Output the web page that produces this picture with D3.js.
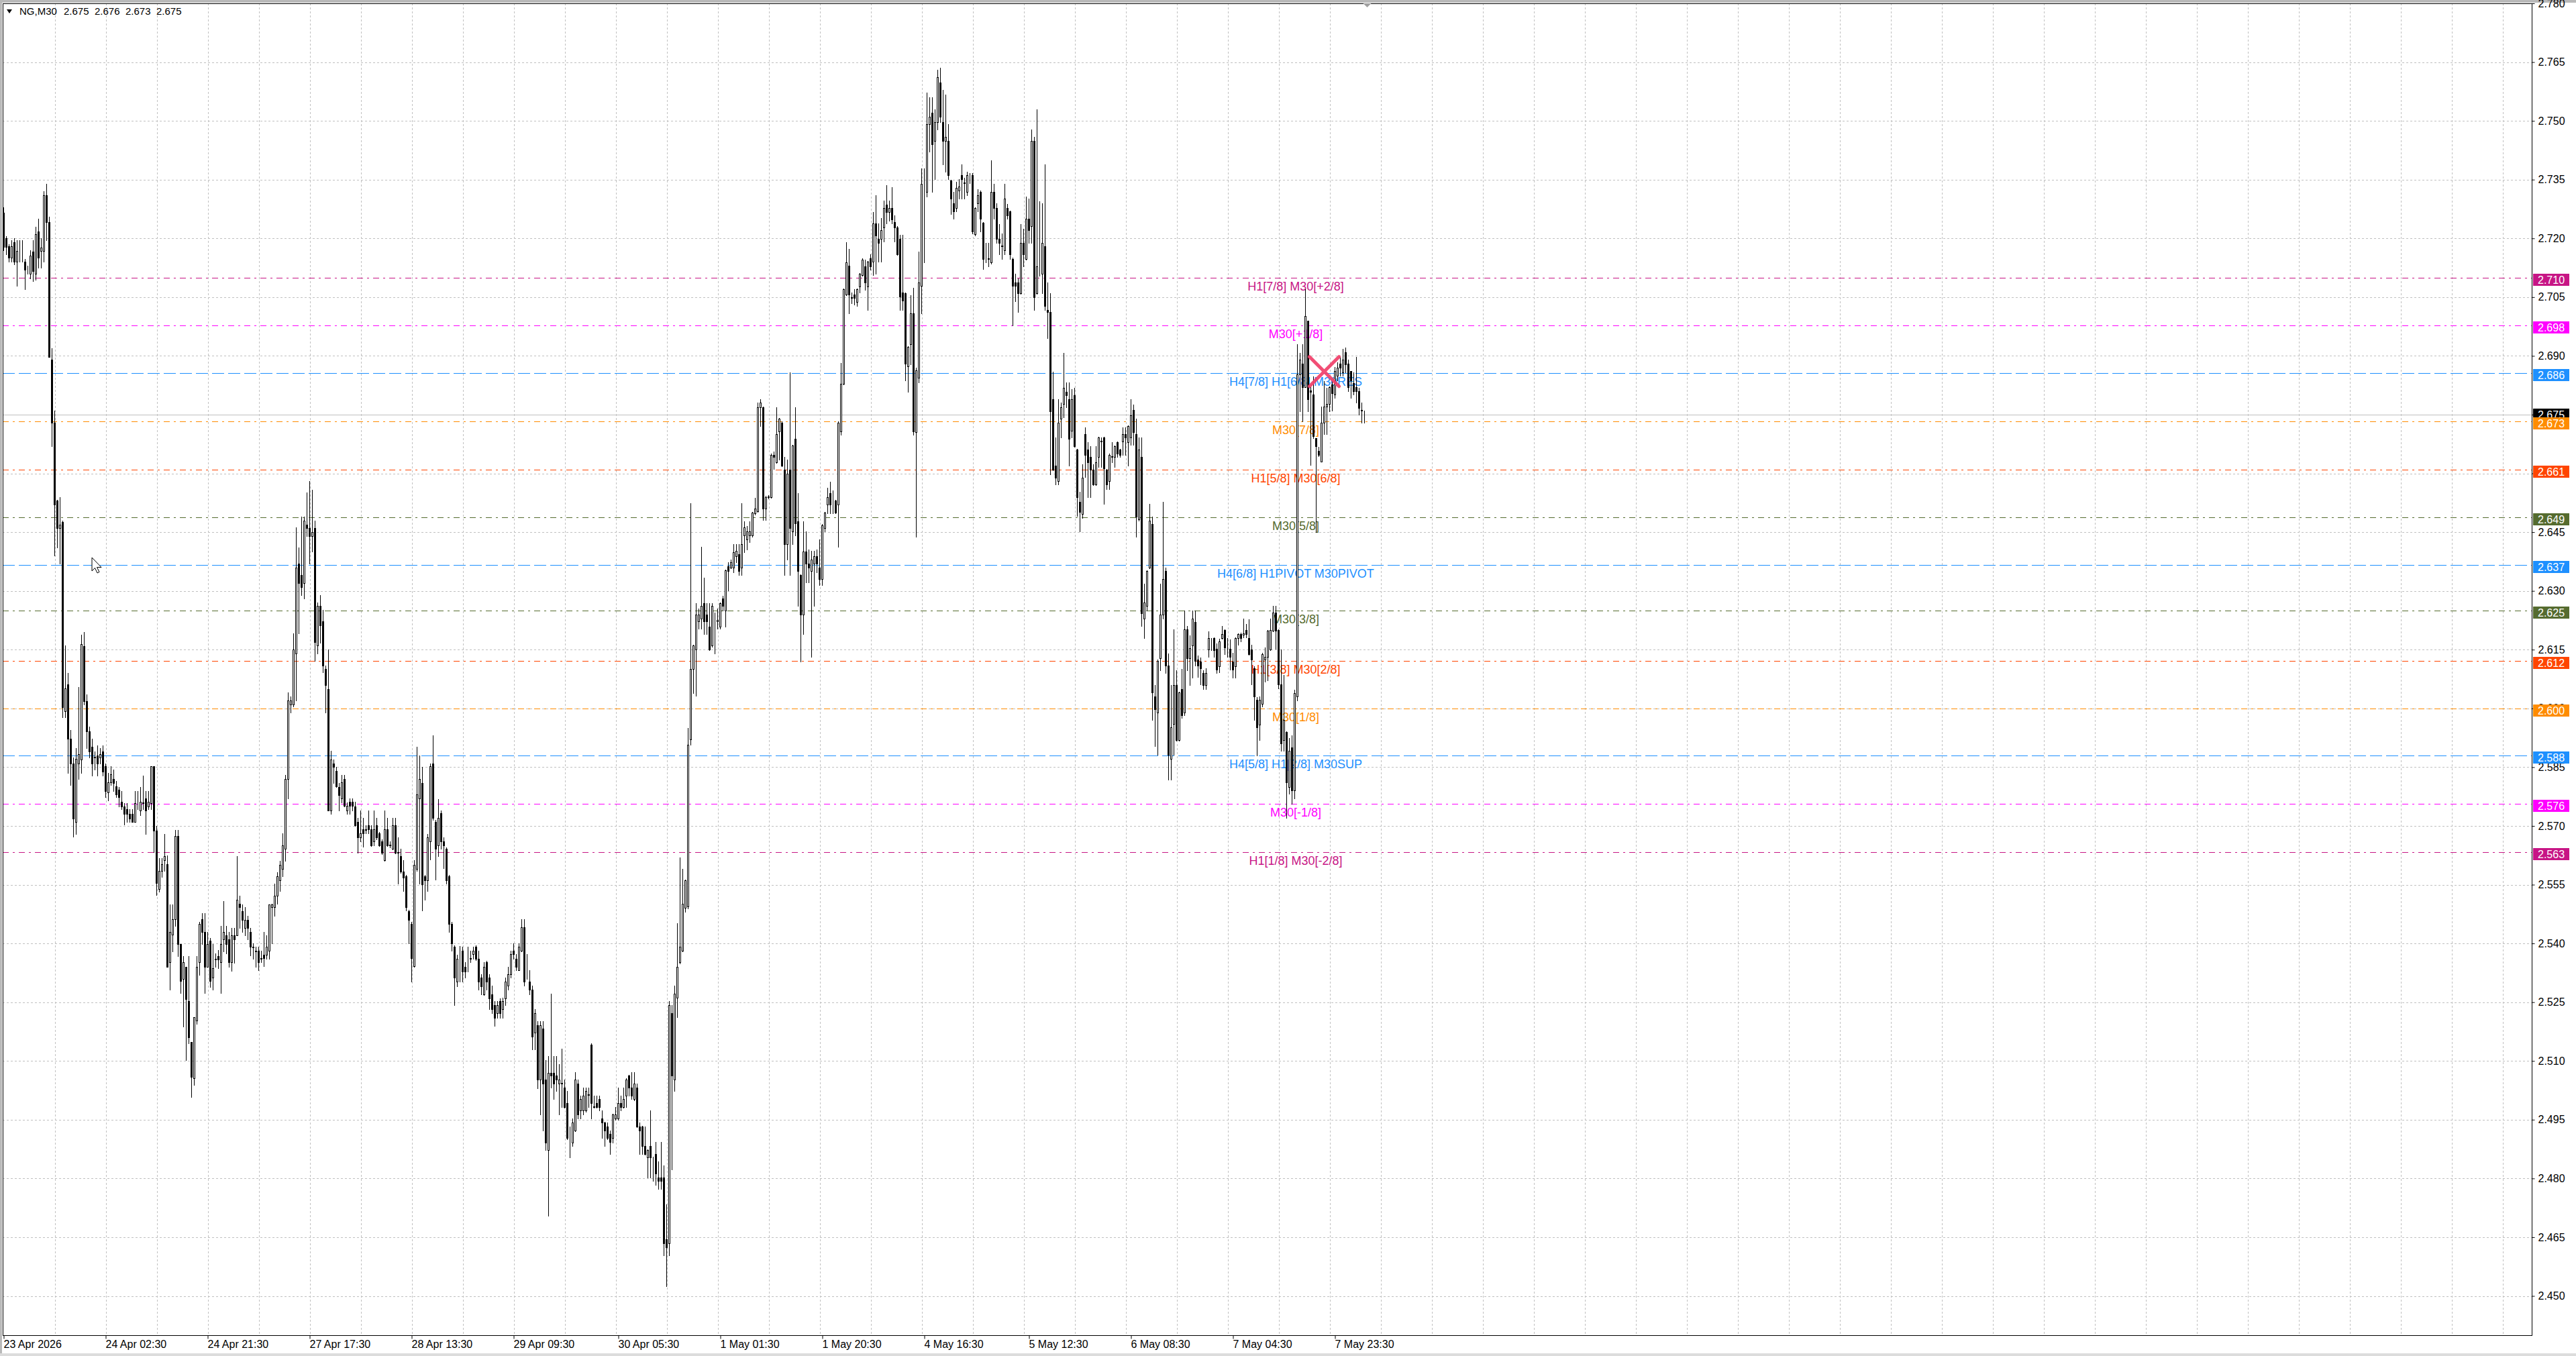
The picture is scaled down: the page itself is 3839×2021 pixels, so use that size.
<!DOCTYPE html>
<html>
<head>
<meta charset="utf-8">
<script src="https://cdn.jsdelivr.net/npm/d3@7"></script>
<style>
  body { margin: 0; background: #fff; overflow: hidden; }
  svg text { font-family: "Liberation Sans", Arial, sans-serif; }
</style>
</head>
<body>
<svg id="chart" width="3839" height="2021"></svg>
<script>
// ---- chart data ----
const symbolName = "NG,M30";
const lastQuote = [2.675, 2.676, 2.673, 2.675];   // open high low close of last bar
const bidPrice = 2.675;

// one entry per M30 bar: [open, high, low, close]
const ohlc = [
[2.7200,2.7240,2.7170,2.7210],[2.7265,2.7280,2.7170,2.7179],[2.7200,2.7205,2.7160,2.7179],[2.7180,2.7185,2.7140,2.7150],
[2.7150,2.7195,2.7140,2.7180],[2.7190,2.7200,2.7133,2.7140],[2.7140,2.7195,2.7078,2.7168],[2.7170,2.7195,2.7140,2.7170],
[2.7148,2.7195,2.7140,2.7148],[2.7140,2.7148,2.7070,2.7120],[2.7117,2.7130,2.7110,2.7117],[2.7110,2.7170,2.7097,2.7156],
[2.7167,2.7195,2.7090,2.7117],[2.7110,2.7230,2.7095,2.7210],[2.7218,2.7250,2.7125,2.7151],[2.7168,2.7200,2.7125,2.7176],
[2.7168,2.7320,2.7140,2.7310],[2.7310,2.7340,2.7195,2.7242],[2.7242,2.7256,2.6898,2.6898],[2.6890,2.6920,2.6670,2.6730],
[2.6730,2.6760,2.6390,2.6520],[2.6530,2.6532,2.6410,2.6461],[2.6461,2.6540,2.6370,2.6469],[2.6476,2.6480,2.5977,2.6003],
[2.5992,2.6160,2.5977,2.6051],[2.6062,2.6090,2.5836,2.5922],[2.5922,2.5945,2.5805,2.5859],[2.5859,2.5875,2.5672,2.5719],
[2.5711,2.5898,2.5680,2.5872],[2.5859,2.6055,2.5820,2.5883],[2.5870,2.6188,2.5836,2.6164],[2.6159,2.6195,2.6010,2.6019],
[2.6019,2.6035,2.5898,2.5942],[2.5942,2.5953,2.5875,2.5890],[2.5902,2.5922,2.5828,2.5859],[2.5875,2.5890,2.5844,2.5877],
[2.5880,2.5906,2.5828,2.5859],[2.5875,2.5898,2.5859,2.5883],[2.5890,2.5906,2.5828,2.5839],[2.5852,2.5859,2.5773,2.5789],
[2.5785,2.5836,2.5765,2.5812],[2.5812,2.5852,2.5805,2.5831],[2.5820,2.5844,2.5789,2.5809],[2.5801,2.5815,2.5773,2.5780],
[2.5793,2.5800,2.5750,2.5773],[2.5762,2.5789,2.5742,2.5750],[2.5750,2.5758,2.5703,2.5731],[2.5742,2.5758,2.5711,2.5730],
[2.5731,2.5742,2.5711,2.5719],[2.5731,2.5742,2.5711,2.5711],[2.5711,2.5789,2.5711,2.5758],[2.5758,2.5789,2.5742,2.5758],
[2.5739,2.5800,2.5727,2.5762],[2.5758,2.5828,2.5742,2.5760],[2.5770,2.5789,2.5680,2.5739],[2.5750,2.5789,2.5742,2.5762],
[2.5758,2.5852,2.5742,2.5852],[2.5852,2.5852,2.5633,2.5688],[2.5688,2.5700,2.5524,2.5555],[2.5539,2.5617,2.5532,2.5586],
[2.5586,2.5617,2.5570,2.5602],[2.5613,2.5680,2.5586,2.5622],[2.5602,2.5625,2.5341,2.5341],[2.5352,2.5500,2.5282,2.5430],
[2.5422,2.5500,2.5380,2.5461],[2.5461,2.5690,2.5445,2.5675],[2.5675,2.5690,2.5367,2.5399],[2.5399,2.5399,2.5273,2.5305],
[2.5310,2.5367,2.5188,2.5352],[2.5340,2.5340,2.5102,2.5258],[2.5253,2.5367,2.5145,2.5160],[2.5149,2.5149,2.5008,2.5060],
[2.5055,2.5211,2.5039,2.5211],[2.5203,2.5367,2.5195,2.5340],[2.5352,2.5455,2.5320,2.5450],[2.5461,2.5477,2.5398,2.5430],
[2.5430,2.5477,2.5273,2.5341],[2.5341,2.5430,2.5340,2.5398],[2.5407,2.5414,2.5289,2.5305],[2.5313,2.5398,2.5282,2.5336],
[2.5359,2.5375,2.5340,2.5361],[2.5367,2.5383,2.5336,2.5359],[2.5352,2.5445,2.5273,2.5398],[2.5410,2.5508,2.5380,2.5430],
[2.5420,2.5445,2.5375,2.5398],[2.5410,2.5430,2.5340,2.5352],[2.5352,2.5440,2.5330,2.5420],[2.5420,2.5440,2.5350,2.5411],
[2.5420,2.5622,2.5420,2.5512],[2.5502,2.5522,2.5440,2.5492],[2.5482,2.5500,2.5430,2.5460],[2.5440,2.5492,2.5420,2.5460],
[2.5460,2.5470,2.5410,2.5440],[2.5430,2.5440,2.5370,2.5391],[2.5391,2.5400,2.5360,2.5390],[2.5380,2.5391,2.5340,2.5381],
[2.5381,2.5391,2.5332,2.5352],[2.5362,2.5381,2.5352,2.5361],[2.5371,2.5430,2.5342,2.5362],[2.5371,2.5420,2.5360,2.5391],
[2.5381,2.5499,2.5361,2.5499],[2.5492,2.5502,2.5401,2.5499],[2.5492,2.5553,2.5470,2.5521],[2.5521,2.5581,2.5501,2.5571],
[2.5561,2.5610,2.5533,2.5600],[2.5590,2.5681,2.5571,2.5651],[2.5642,2.5830,2.5610,2.5820],[2.5820,2.6040,2.5770,2.6020],
[2.6010,2.6030,2.5990,2.6020],[2.6010,2.6192,2.6005,2.6151],[2.6141,2.6462,2.6020,2.6359],[2.6369,2.6410,2.6192,2.6320],
[2.6341,2.6489,2.6290,2.6310],[2.6320,2.6489,2.6280,2.6479],[2.6469,2.6551,2.6440,2.6461],[2.6461,2.6580,2.6369,2.6440],
[2.6440,2.6558,2.6400,2.6450],[2.6461,2.6479,2.6121,2.6170],[2.6160,2.6270,2.6140,2.6261],[2.6261,2.6290,2.6167,2.6212],
[2.6222,2.6251,2.6092,2.6110],[2.6100,2.6110,2.5990,2.6059],[2.6049,2.6151,2.5740,2.5740],[2.5740,2.5891,2.5730,2.5870],
[2.5860,2.5870,2.5810,2.5850],[2.5840,2.5850,2.5800,2.5801],[2.5799,2.5810,2.5740,2.5779],[2.5771,2.5830,2.5760,2.5811],
[2.5820,2.5830,2.5750,2.5752],[2.5740,2.5760,2.5730,2.5752],[2.5762,2.5771,2.5730,2.5752],[2.5762,2.5771,2.5740,2.5752],
[2.5750,2.5762,2.5700,2.5701],[2.5710,2.5720,2.5632,2.5671],[2.5671,2.5740,2.5661,2.5681],[2.5691,2.5720,2.5646,2.5681],
[2.5691,2.5701,2.5681,2.5690],[2.5701,2.5740,2.5681,2.5691],[2.5691,2.5701,2.5648,2.5651],[2.5661,2.5740,2.5651,2.5691],
[2.5701,2.5720,2.5665,2.5671],[2.5681,2.5685,2.5648,2.5651],[2.5661,2.5665,2.5628,2.5632],[2.5612,2.5740,2.5610,2.5691],
[2.5691,2.5720,2.5648,2.5651],[2.5651,2.5660,2.5645,2.5652],[2.5642,2.5720,2.5640,2.5701],[2.5701,2.5720,2.5630,2.5632],
[2.5632,2.5671,2.5553,2.5633],[2.5622,2.5642,2.5580,2.5583],[2.5583,2.5612,2.5533,2.5568],[2.5571,2.5575,2.5484,2.5492],
[2.5482,2.5485,2.5401,2.5460],[2.5450,2.5455,2.5302,2.5362],[2.5342,2.5612,2.5340,2.5600],[2.5590,2.5902,2.5585,2.5781],
[2.5771,2.5880,2.5553,2.5820],[2.5810,2.5850,2.5484,2.5551],[2.5571,2.5575,2.5512,2.5561],[2.5561,2.5680,2.5533,2.5671],
[2.5661,2.5860,2.5614,2.5853],[2.5860,2.5932,2.5715,2.5720],[2.5710,2.5715,2.5563,2.5642],[2.5651,2.5769,2.5622,2.5720],
[2.5732,2.5740,2.5642,2.5661],[2.5661,2.5671,2.5592,2.5651],[2.5642,2.5645,2.5553,2.5561],[2.5571,2.5575,2.5430,2.5450],
[2.5450,2.5455,2.5381,2.5401],[2.5391,2.5395,2.5243,2.5312],[2.5302,2.5371,2.5290,2.5361],[2.5372,2.5393,2.5302,2.5373],
[2.5381,2.5392,2.5302,2.5329],[2.5341,2.5353,2.5312,2.5329],[2.5352,2.5392,2.5329,2.5353],[2.5361,2.5381,2.5352,2.5362],
[2.5372,2.5392,2.5361,2.5381],[2.5392,2.5395,2.5358,2.5361],[2.5361,2.5381,2.5282,2.5302],[2.5312,2.5322,2.5270,2.5290],
[2.5270,2.5352,2.5268,2.5341],[2.5352,2.5355,2.5282,2.5302],[2.5312,2.5322,2.5232,2.5260],[2.5270,2.5292,2.5222,2.5232],
[2.5242,2.5252,2.5190,2.5210],[2.5222,2.5252,2.5210,2.5242],[2.5252,2.5260,2.5210,2.5222],[2.5232,2.5262,2.5210,2.5252],
[2.5260,2.5312,2.5242,2.5302],[2.5292,2.5341,2.5282,2.5322],[2.5322,2.5381,2.5312,2.5372],[2.5381,2.5401,2.5361,2.5372],
[2.5361,2.5372,2.5331,2.5341],[2.5331,2.5401,2.5331,2.5392],[2.5381,2.5461,2.5379,2.5441],[2.5441,2.5461,2.5292,2.5302],
[2.5312,2.5372,2.5310,2.5313],[2.5302,2.5331,2.5270,2.5282],[2.5282,2.5292,2.5130,2.5162],[2.5172,2.5232,2.5130,2.5222],
[2.5192,2.5202,2.5031,2.5052],[2.5052,2.5202,2.4963,2.5192],[2.5182,2.5202,2.4923,2.5043],[2.5052,2.5102,2.4873,2.4891],
[2.4873,2.5112,2.4704,2.5070],[2.5070,2.5271,2.5032,2.5062],[2.5070,2.5112,2.5003,2.5043],[2.5062,2.5112,2.5023,2.5052],
[2.5043,2.5092,2.4963,2.5052],[2.5043,2.5132,2.4983,2.5044],[2.5032,2.5052,2.4980,2.4983],[2.4992,2.5023,2.4900,2.4903],
[2.4903,2.4933,2.4853,2.4904],[2.4891,2.4953,2.4883,2.4943],[2.4923,2.5072,2.4920,2.5052],[2.5043,2.5052,2.4953,2.4963],
[2.4973,2.5012,2.4953,2.5003],[2.4973,2.5032,2.4963,2.5012],[2.4973,2.5032,2.4970,2.5023],[2.5013,2.5032,2.4983,2.5014],
[2.5142,2.5145,2.4953,2.4992],[2.4983,2.5012,2.4980,2.4984],[2.4992,2.5012,2.4980,2.4983],[2.5003,2.5012,2.4973,2.4983],
[2.4953,2.4973,2.4903,2.4943],[2.4943,2.4945,2.4883,2.4923],[2.4933,2.4943,2.4900,2.4903],[2.4913,2.4923,2.4863,2.4893],
[2.4903,2.4965,2.4891,2.4963],[2.4953,2.4983,2.4950,2.4963],[2.4953,2.5032,2.4950,2.4992],[2.4992,2.5012,2.4973,2.4983],
[2.4983,2.5032,2.4980,2.5003],[2.5012,2.5055,2.4983,2.5052],[2.5062,2.5065,2.5012,2.5032],[2.5032,2.5072,2.5003,2.5012],
[2.5003,2.5072,2.5000,2.5043],[2.5032,2.5043,2.4930,2.4933],[2.4933,2.4943,2.4863,2.4923],[2.4933,2.4935,2.4863,2.4883],
[2.4883,2.4933,2.4860,2.4863],[2.4853,2.4875,2.4803,2.4873],[2.4883,2.4973,2.4803,2.4853],[2.4853,2.4856,2.4793,2.4854],
[2.4863,2.4893,2.4783,2.4813],[2.4803,2.4843,2.4773,2.4793],[2.4803,2.4893,2.4773,2.4793],[2.4803,2.4833,2.4604,2.4634],
[2.4644,2.4733,2.4525,2.4624],[2.4634,2.5252,2.4604,2.5242],[2.5222,2.5242,2.4823,2.5062],[2.5052,2.5292,2.5023,2.5271],
[2.5262,2.5451,2.5212,2.5341],[2.5352,2.5620,2.5349,2.5391],[2.5381,2.5591,2.5379,2.5501],[2.5491,2.5563,2.5480,2.5561],
[2.5495,2.5950,2.5490,2.5908],[2.5921,2.6524,2.5908,2.6101],[2.6101,2.6162,2.6039,2.6160],[2.6151,2.6269,2.6032,2.6239],
[2.6222,2.6255,2.6203,2.6239],[2.6229,2.6412,2.6203,2.6262],[2.6269,2.6334,2.6190,2.6222],[2.6239,2.6269,2.6190,2.6222],
[2.6209,2.6269,2.6148,2.6150],[2.6160,2.6269,2.6158,2.6262],[2.6222,2.6245,2.6140,2.6223],[2.6222,2.6255,2.6203,2.6225],
[2.6209,2.6270,2.6203,2.6268],[2.6281,2.6288,2.6249,2.6262],[2.6249,2.6355,2.6209,2.6353],[2.6363,2.6373,2.6301,2.6350],
[2.6360,2.6380,2.6358,2.6373],[2.6360,2.6419,2.6347,2.6399],[2.6389,2.6419,2.6373,2.6402],[2.6393,2.6419,2.6341,2.6350],
[2.6360,2.6524,2.6341,2.6419],[2.6441,2.6478,2.6399,2.6463],[2.6432,2.6465,2.6406,2.6452],[2.6441,2.6478,2.6425,2.6452],
[2.6441,2.6502,2.6438,2.6500],[2.6498,2.6537,2.6495,2.6511],[2.6504,2.6780,2.6502,2.6769],[2.6769,2.6789,2.6720,2.6780],
[2.6769,2.6771,2.6481,2.6511],[2.6511,2.6542,2.6481,2.6540],[2.6540,2.6545,2.6535,2.6541],[2.6540,2.6650,2.6538,2.6648],
[2.6648,2.6655,2.6612,2.6642],[2.6629,2.6769,2.6627,2.6701],[2.6707,2.6742,2.6635,2.6740],[2.6730,2.6732,2.6618,2.6620],
[2.6609,2.6642,2.6341,2.6419],[2.6419,2.6635,2.6380,2.6600],[2.6609,2.6858,2.6341,2.6461],[2.6452,2.6673,2.6419,2.6671],
[2.6688,2.6769,2.6441,2.6472],[2.6478,2.6550,2.6262,2.6350],[2.6340,2.6342,2.6120,2.6240],[2.6240,2.6478,2.6190,2.6400],
[2.6400,2.6452,2.6321,2.6370],[2.6370,2.6406,2.6321,2.6360],[2.6350,2.6402,2.6131,2.6380],[2.6370,2.6402,2.6262,2.6389],
[2.6389,2.6406,2.6347,2.6370],[2.6360,2.6432,2.6315,2.6330],[2.6330,2.6470,2.6315,2.6468],[2.6461,2.6502,2.6452,2.6500],
[2.6520,2.6563,2.6498,2.6540],[2.6550,2.6579,2.6498,2.6520],[2.6530,2.6557,2.6498,2.6531],[2.6530,2.6532,2.6498,2.6500],
[2.6520,2.6732,2.6413,2.6730],[2.6707,2.6882,2.6698,2.6829],[2.6829,2.7072,2.6827,2.7070],[2.7057,2.7190,2.7055,2.7139],
[2.7131,2.7173,2.7009,2.7057],[2.7048,2.7061,2.7035,2.7049],[2.7057,2.7070,2.7031,2.7048],[2.7038,2.7072,2.7028,2.7070],
[2.7077,2.7111,2.7061,2.7109],[2.7107,2.7149,2.7105,2.7146],[2.7129,2.7146,2.7068,2.7088],[2.7077,2.7142,2.7018,2.7140],
[2.7149,2.7160,2.7120,2.7129],[2.7140,2.7267,2.7107,2.7238],[2.7238,2.7310,2.7110,2.7208],[2.7199,2.7238,2.7140,2.7188],
[2.7199,2.7251,2.7140,2.7221],[2.7228,2.7297,2.7192,2.7278],[2.7286,2.7336,2.7238,2.7267],[2.7267,2.7297,2.7245,2.7278],
[2.7278,2.7330,2.7238,2.7249],[2.7241,2.7258,2.7192,2.7228],[2.7228,2.7232,2.7158,2.7160],[2.7198,2.7209,2.7018,2.7051],
[2.7061,2.7209,2.7018,2.7041],[2.7060,2.7062,2.6838,2.6880],[2.6874,2.6925,2.6808,2.6923],[2.6930,2.7055,2.6878,2.7009],
[2.7009,2.7074,2.6698,2.6707],[2.6706,2.6870,2.6439,2.6863],[2.6844,2.7167,2.6832,2.7088],[2.7079,2.7379,2.7009,2.7339],
[2.7339,2.7379,2.7138,2.7340],[2.7319,2.7573,2.7307,2.7491],[2.7491,2.7560,2.7421,2.7510],[2.7520,2.7560,2.7319,2.7440],
[2.7449,2.7529,2.7351,2.7497],[2.7497,2.7630,2.7478,2.7611],[2.7598,2.7636,2.7497,2.7510],[2.7497,2.7579,2.7389,2.7449],
[2.7449,2.7567,2.7370,2.7459],[2.7449,2.7491,2.7351,2.7361],[2.7348,2.7350,2.7262,2.7301],[2.7290,2.7319,2.7250,2.7269],
[2.7278,2.7345,2.7269,2.7329],[2.7322,2.7351,2.7301,2.7332],[2.7361,2.7389,2.7301,2.7351],[2.7341,2.7354,2.7301,2.7342],
[2.7319,2.7370,2.7310,2.7361],[2.7351,2.7366,2.7341,2.7352],[2.7361,2.7366,2.7212,2.7218],[2.7210,2.7280,2.7208,2.7278],
[2.7290,2.7326,2.7269,2.7310],[2.7319,2.7322,2.7218,2.7250],[2.7240,2.7242,2.7121,2.7148],[2.7159,2.7189,2.7138,2.7160],
[2.7148,2.7189,2.7129,2.7149],[2.7138,2.7400,2.7136,2.7319],[2.7319,2.7339,2.7250,2.7278],[2.7278,2.7290,2.7189,2.7199],
[2.7199,2.7237,2.7159,2.7189],[2.7180,2.7212,2.7148,2.7181],[2.7170,2.7339,2.7159,2.7301],[2.7278,2.7288,2.7250,2.7259],
[2.7269,2.7271,2.7148,2.7159],[2.7148,2.7150,2.6977,2.7079],[2.7088,2.7110,2.7040,2.7079],[2.7088,2.7098,2.7012,2.7060],
[2.7060,2.7237,2.7058,2.7189],[2.7189,2.7225,2.7129,2.7159],[2.7148,2.7307,2.7146,2.7250],[2.7250,2.7301,2.7189,2.7221],
[2.7231,2.7478,2.7189,2.7449],[2.7449,2.7459,2.7018,2.7050],[2.7060,2.7529,2.7058,2.7129],[2.7121,2.7294,2.7104,2.7122],
[2.7110,2.7290,2.7060,2.7189],[2.7180,2.7389,2.7018,2.7028],[2.7018,2.7088,2.6946,2.7012],[2.7012,2.7060,2.6598,2.6758],
[2.6790,2.6860,2.6608,2.6610],[2.6619,2.6692,2.6572,2.6589],[2.6581,2.6790,2.6572,2.6730],[2.6739,2.6781,2.6692,2.6768],
[2.6777,2.6908,2.6743,2.6819],[2.6809,2.6832,2.6768,2.6800],[2.6790,2.6832,2.6619,2.6689],[2.6708,2.6815,2.6692,2.6790],
[2.6800,2.6819,2.6668,2.6670],[2.6661,2.6663,2.6492,2.6540],[2.6528,2.6553,2.6452,2.6502],[2.6496,2.6623,2.6487,2.6589],
[2.6701,2.6718,2.6591,2.6648],[2.6661,2.6680,2.6540,2.6629],[2.6642,2.6670,2.6540,2.6610],[2.6610,2.6623,2.6570,2.6572],
[2.6572,2.6670,2.6570,2.6629],[2.6642,2.6694,2.6617,2.6692],[2.6682,2.6692,2.6617,2.6683],[2.6692,2.6694,2.6522,2.6613],
[2.6610,2.6612,2.6560,2.6572],[2.6581,2.6650,2.6560,2.6648],[2.6642,2.6680,2.6629,2.6643],[2.6642,2.6672,2.6617,2.6670],
[2.6680,2.6682,2.6642,2.6651],[2.6661,2.6663,2.6642,2.6648],[2.6682,2.6718,2.6648,2.6701],[2.6701,2.6718,2.6648,2.6692],
[2.6680,2.6722,2.6619,2.6720],[2.6692,2.6790,2.6673,2.6749],[2.6762,2.6775,2.6673,2.6705],[2.6701,2.6739,2.6439,2.6490],
[2.6483,2.6692,2.6480,2.6661],[2.6642,2.6692,2.6211,2.6243],[2.6230,2.6319,2.6180,2.6271],[2.6262,2.6352,2.6250,2.6350],
[2.6359,2.6522,2.6357,2.6480],[2.6471,2.6490,2.5970,2.6040],[2.6031,2.6059,2.5903,2.5998],[2.5989,2.6124,2.5882,2.6122],
[2.6129,2.6319,2.6097,2.6240],[2.6240,2.6528,2.6230,2.6331],[2.6350,2.6359,2.6091,2.6110],[2.6110,2.6141,2.5818,2.5882],
[2.5872,2.6059,2.5818,2.5951],[2.5960,2.6201,2.5882,2.6059],[2.6059,2.6097,2.5918,2.5920],[2.5920,2.6042,2.5918,2.6040],
[2.6049,2.6100,2.5976,2.5983],[2.5989,2.6249,2.5983,2.6201],[2.6201,2.6211,2.6097,2.6129],[2.6129,2.6186,2.6059,2.6154],
[2.6160,2.6249,2.6078,2.6230],[2.6221,2.6249,2.6110,2.6122],[2.6125,2.6135,2.6080,2.6110],[2.6120,2.6130,2.6062,2.6102],
[2.6091,2.6097,2.6050,2.6059],[2.6059,2.6102,2.6050,2.6091],[2.6151,2.6196,2.6131,2.6179],[2.6162,2.6179,2.6148,2.6163],
[2.6179,2.6182,2.6131,2.6148],[2.6152,2.6165,2.6091,2.6099],[2.6108,2.6177,2.6092,2.6171],[2.6179,2.6211,2.6177,2.6190],
[2.6200,2.6202,2.6139,2.6156],[2.6150,2.6179,2.6131,2.6151],[2.6152,2.6176,2.6099,2.6131],[2.6120,2.6142,2.6079,2.6099],
[2.6108,2.6182,2.6079,2.6179],[2.6179,2.6192,2.6162,2.6190],[2.6190,2.6193,2.6171,2.6179],[2.6188,2.6230,2.6182,2.6191],
[2.6200,2.6216,2.6182,2.6190],[2.6179,2.6228,2.6137,2.6139],[2.6150,2.6162,2.6062,2.6125],[2.6102,2.6108,2.5971,2.6031],
[2.6022,2.6028,2.5880,2.5951],[2.5959,2.6031,2.5919,2.6022],[2.6011,2.6142,2.6005,2.6139],[2.6125,2.6156,2.6068,2.6131],
[2.6131,2.6200,2.6071,2.6199],[2.6150,2.6230,2.6148,2.6200],[2.6199,2.6261,2.6197,2.6245],[2.6245,2.6261,2.6152,2.6199],
[2.6200,2.6202,2.6051,2.6062],[2.6062,2.6151,2.5891,2.5911],[2.5920,2.6085,2.5891,2.5971],[2.5940,2.5942,2.5720,2.5811],
[2.5800,2.5925,2.5782,2.5891],[2.5900,2.5931,2.5757,2.5791],[2.5791,2.6048,2.5771,2.6039],[2.6030,2.6930,2.6020,2.6853],
[2.6853,2.6907,2.6758,2.6890],[2.6881,2.6930,2.6733,2.6821],[2.6821,2.7070,2.6821,2.7001],[2.6990,2.6990,2.6758,2.6790],
[2.6812,2.6821,2.6621,2.6809],[2.6801,2.6847,2.6690,2.6696],[2.6690,2.6690,2.6450,2.6670],[2.6658,2.6667,2.6644,2.6647],
[2.6630,2.6770,2.6630,2.6730],[2.6730,2.6835,2.6701,2.6770],[2.6770,2.6818,2.6701,2.6778],[2.6778,2.6822,2.6758,2.6821],
[2.6827,2.6838,2.6761,2.6804],[2.6801,2.6872,2.6793,2.6861],[2.6850,2.6884,2.6838,2.6870],[2.6881,2.6898,2.6850,2.6870],
[2.6858,2.6918,2.6850,2.6890],[2.6910,2.6921,2.6858,2.6878],[2.6881,2.6890,2.6810,2.6821],[2.6861,2.6862,2.6793,2.6838],
[2.6830,2.6858,2.6801,2.6810],[2.6821,2.6898,2.6781,2.6810],[2.6810,2.6818,2.6750,2.6767],[2.6761,2.6781,2.6730,2.6762],
[2.6750,2.6760,2.6730,2.6750]
];

// time axis labels and the bar each one sits on
const timeLabels = ["23 Apr 2026","24 Apr 02:30","24 Apr 21:30","27 Apr 17:30","28 Apr 13:30","29 Apr 09:30",
  "30 Apr 05:30","1 May 01:30","1 May 20:30","4 May 16:30","5 May 12:30","6 May 08:30","7 May 04:30","7 May 23:30"];
const timeLabelBars = [1, 39, 77, 115, 153, 191, 230, 268, 306, 344, 383, 421, 459, 497];

// price scale ticks
const priceTicks = [2.780, 2.765, 2.750, 2.735, 2.720, 2.705, 2.690, 2.675, 2.660, 2.645, 2.630, 2.615,
  2.600, 2.585, 2.570, 2.555, 2.540, 2.525, 2.510, 2.495, 2.480, 2.465, 2.450];

// murrey-math style levels
const levelValues = [2.7099, 2.6977, 2.6856, 2.6732, 2.6610, 2.6488, 2.6366, 2.6250, 2.6122, 2.6000, 2.5879, 2.5757, 2.5633];
const levelNames = ["H1[7/8] M30[+2/8]", "M30[+1/8]", "H4[7/8] H1[6/8] M30RES", "M30[7/8]", "H1[5/8] M30[6/8]",
  "M30[5/8]", "H4[6/8] H1PIVOT M30PIVOT", "M30[3/8]", "H1[3/8] M30[2/8]", "M30[1/8]",
  "H4[5/8] H1[2/8] M30SUP", "M30[-1/8]", "H1[1/8] M30[-2/8]"];
const levelColors = ["#C71585", "#FF00FF", "#1E90FF", "#FF8C00", "#FF4500", "#556B2F", "#1E90FF",
  "#556B2F", "#FF4500", "#FF8C00", "#1E90FF", "#FF00FF", "#C71585"];
const levelStyles = ["dashdot", "dashdot", "dash", "dashdot", "dashdot", "dashdot", "dash",
  "dashdot", "dashdot", "dashdot", "dash", "dashdot", "dashdot"];

// the cross signal drawn on the chart
const signalBar = 493;
const signalPrice = 2.686;

// ---- layout ----
const W = 3839, H = 2021;
const plot = {left: 4, top: 5, right: 3773, bottom: 1990};
const barStep = 4;
const labelX = 1931;   // where the level names sit

const svg = d3.select("#chart");

// bar index -> pixel, price -> pixel
const x = d3.scaleLinear().domain([0, 1]).range([1.5, 1.5 + barStep]);
const y = d3.scaleLinear().domain([2.450, 2.780]).range([1931.5, 5]);
const yr = v => Math.round(y(v));

const dashes = {dashdot: "9,6,3,6", dash: "18,6"};

// window frame bits
svg.append("rect").attr("x", 0).attr("y", 0).attr("width", W).attr("height", 4).attr("fill", "#b9b9b9");
svg.append("rect").attr("x", 0).attr("y", 0).attr("width", 3).attr("height", H).attr("fill", "#b9b9b9");
svg.append("rect").attr("x", 0).attr("y", 2017).attr("width", W).attr("height", 4).attr("fill", "#dcdcdc");

svg.append("defs").append("clipPath").attr("id", "plotClip")
  .append("rect")
  .attr("x", plot.left + 1).attr("y", plot.top + 1)
  .attr("width", plot.right - plot.left - 1).attr("height", plot.bottom - plot.top - 1);

const g = svg.append("g").attr("clip-path", "url(#plotClip)");

// grid: vertical every 19 bars, horizontal on the price ticks
const gridBars = d3.range(20, (plot.right - 1.5) / barStep, 19);
g.append("g").selectAll("line").data(gridBars).enter().append("line")
  .attr("x1", d => Math.round(x(d)) + 0.5).attr("x2", d => Math.round(x(d)) + 0.5)
  .attr("y1", plot.top).attr("y2", plot.bottom)
  .attr("stroke", "#c0c0c0").attr("stroke-dasharray", "3,3");

g.append("g").selectAll("line").data(priceTicks).enter().append("line")
  .attr("x1", plot.left).attr("x2", plot.right)
  .attr("y1", d => yr(d) + 0.5).attr("y2", d => yr(d) + 0.5)
  .attr("stroke", "#c0c0c0").attr("stroke-dasharray", "3,3");

// level lines
const levels = levelValues.map((v, i) => ({v: v, name: levelNames[i], color: levelColors[i], style: levelStyles[i]}));

g.append("g").selectAll("line").data(levels).enter().append("line")
  .attr("x1", plot.left).attr("x2", plot.right)
  .attr("y1", d => yr(d.v) + 0.5).attr("y2", d => yr(d.v) + 0.5)
  .attr("stroke", d => d.color)
  .attr("stroke-dasharray", d => dashes[d.style]);

// level names, just under each line
g.append("g").selectAll("text").data(levels).enter().append("text")
  .attr("x", labelX).attr("y", d => yr(d.v) + 19)
  .attr("text-anchor", "middle")
  .style("font-size", "18px")
  .attr("fill", d => d.color)
  .text(d => d.name);

// bid line
g.append("line")
  .attr("x1", plot.left).attr("x2", plot.right)
  .attr("y1", yr(bidPrice) + 0.5).attr("y2", yr(bidPrice) + 0.5)
  .attr("stroke", "#c0c0c0");

// candles
const bars = ohlc.map((d, i) => ({i: i, o: d[0], h: d[1], l: d[2], c: d[3]}));
const cg = g.append("g").attr("shape-rendering", "crispEdges");

cg.selectAll("line.wick").data(bars).enter().append("line")
  .attr("class", "wick")
  .attr("x1", d => x(d.i)).attr("x2", d => x(d.i))
  .attr("y1", d => yr(d.h)).attr("y2", d => yr(d.l) + 1)
  .attr("stroke", "#000");

// bear bodies: solid black
cg.selectAll("rect.bear").data(bars.filter(d => d.c < d.o)).enter().append("rect")
  .attr("class", "bear")
  .attr("x", d => x(d.i) - 1.5).attr("width", 3)
  .attr("y", d => yr(d.o))
  .attr("height", d => Math.max(1, yr(d.c) - yr(d.o) + 1))
  .attr("fill", "#000");

// bull bodies (and dojis): white with black outline
cg.selectAll("rect.bull").data(bars.filter(d => d.c >= d.o)).enter().append("rect")
  .attr("class", "bull")
  .attr("x", d => x(d.i) - 1).attr("width", 2)
  .attr("y", d => yr(d.c) + 0.5)
  .attr("height", d => Math.max(0, yr(d.o) - yr(d.c)))
  .attr("fill", "#fff").attr("stroke", "#000");

// the cross signal
const sx = x(signalBar), sy = y(signalPrice), s = 22;
const xg = g.append("g").attr("stroke", "#f0406a").attr("stroke-width", 5)
  .attr("stroke-linecap", "round").attr("opacity", 0.92);
xg.append("line").attr("x1", sx - s).attr("y1", sy - s).attr("x2", sx + s).attr("y2", sy + s);
xg.append("line").attr("x1", sx - s).attr("y1", sy + s).attr("x2", sx + s).attr("y2", sy - s);

// mouse pointer left on the chart
svg.append("path")
  .attr("d", "M137,831 L137,851 L141.5,846.5 L145,854 L148,852.5 L144.5,845.5 L151,845.5 Z")
  .attr("fill", "#fff").attr("stroke", "#000").attr("stroke-width", 1);

// frame of the plot
svg.append("rect")
  .attr("x", plot.left + 0.5).attr("y", plot.top + 0.5)
  .attr("width", plot.right - plot.left).attr("height", plot.bottom - plot.top)
  .attr("fill", "none").attr("stroke", "#000");

// chart shift marker at the top
const shiftX = x(ohlc.length);
svg.append("path")
  .attr("d", `M${shiftX - 6},5 L${shiftX + 6},5 L${shiftX},11 Z`)
  .attr("fill", "#a0a0a0");

// right price axis
const yAxis = svg.append("g")
  .attr("transform", `translate(${plot.right + 0.5},0)`)
  .call(d3.axisRight(y).tickValues(priceTicks).tickSize(4).tickFormat(d3.format(".3f")));
yAxis.select(".domain").remove();
yAxis.selectAll(".tick line").attr("stroke", "#000");
yAxis.selectAll(".tick text")
  .attr("x", 9)
  .style("font-size", "16px")
  .style("font-family", "\"Liberation Sans\", Arial, sans-serif")
  .attr("fill", "#000");

// bottom time axis
const xAxis = svg.append("g")
  .attr("transform", `translate(0,${plot.bottom + 0.5})`)
  .call(d3.axisBottom(x).tickValues(timeLabelBars).tickSize(5).tickFormat((d, i) => timeLabels[i]));
xAxis.select(".domain").remove();
xAxis.selectAll(".tick line").attr("stroke", "#000");
xAxis.selectAll(".tick text")
  .attr("text-anchor", "start")
  .attr("x", -0.5)
  .attr("y", 7)
  .style("font-size", "16px")
  .style("font-family", "\"Liberation Sans\", Arial, sans-serif")
  .attr("fill", "#000");

// price boxes on the axis: bid first, then the levels on top
const boxes = svg.append("g");
const bidY = yr(bidPrice);
boxes.append("rect").attr("x", plot.right + 2).attr("y", bidY - 9).attr("width", 54).attr("height", 18).attr("fill", "#000");
boxes.append("text").attr("x", plot.right + 9).attr("y", bidY + 6)
  .style("font-size", "16px").attr("fill", "#fff").text(d3.format(".3f")(bidPrice));

const lb = boxes.selectAll("g.lvl").data(levels).enter().append("g").attr("class", "lvl");
lb.append("rect")
  .attr("x", plot.right + 2).attr("y", d => yr(d.v) - 6)
  .attr("width", 54).attr("height", 18)
  .attr("fill", d => d.color);
lb.append("text")
  .attr("x", plot.right + 9).attr("y", d => yr(d.v) + 9)
  .style("font-size", "16px").attr("fill", "#fff")
  .text(d => d3.format(".3f")(d.v));

// header: symbol and last bar prices
svg.append("path").attr("d", "M10,14 L18,14 L14,20 Z").attr("fill", "#000");
const head = svg.append("text").attr("y", 22).style("font-size", "15px").attr("fill", "#000");
head.append("tspan").attr("x", 29).text(symbolName);
lastQuote.forEach((v, i) => {
  head.append("tspan").attr("x", 95 + i * 46).text(d3.format(".3f")(v));
});
</script>
</body>
</html>
